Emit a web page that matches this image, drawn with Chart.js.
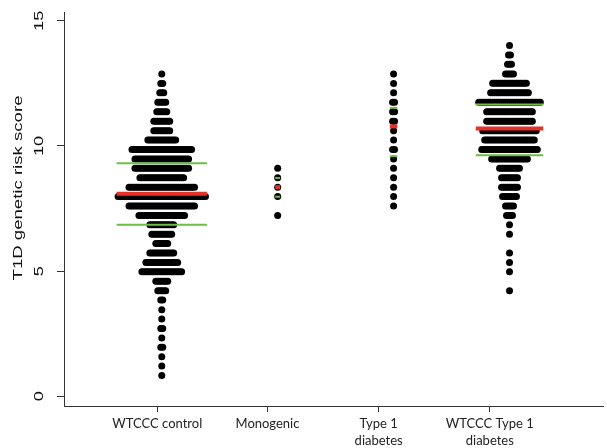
<!DOCTYPE html>
<html>
<head>
<meta charset="utf-8">
<title>T1D genetic risk score</title>
<script src="https://cdn.jsdelivr.net/npm/chart.js@4.4.1/dist/chart.umd.min.js"></script>
<style>
  html, body { margin: 0; padding: 0; background: #fff; }
  #wrap { width: 607px; height: 448px; position: relative; }
</style>
</head>
<body>
<div id="wrap"><canvas id="riskChart"></canvas></div>
<script>
// groups and tick labels
const groupNames = ["WTCCC control", "Monogenic", "Type 1 diabetes", "WTCCC Type 1 diabetes"];
const tickLabels = [["WTCCC control"], ["Monogenic"], ["Type 1", "diabetes"], ["WTCCC Type 1", "diabetes"]];
const yTicks = [0, 5, 10, 15];
const yTitle = "T1D genetic risk score";

// beeswarm rows: score of the row and how many subjects sit in it
const controlScores = [12.87, 12.49, 12.12, 11.74, 11.37, 10.99, 10.61, 10.24, 9.86, 9.48, 9.11, 8.73, 8.35, 7.98, 7.60, 7.22, 6.85, 6.47, 6.10, 5.72, 5.34, 4.97, 4.59, 4.21, 3.84, 3.46, 3.09, 2.71, 2.33, 1.96, 1.58, 1.21, 0.83];
const controlCounts = [1, 2, 3, 5, 6, 9, 9, 15, 31, 28, 28, 23, 34, 45, 34, 24, 13, 11, 7, 13, 17, 21, 7, 5, 2, 1, 1, 2, 1, 2, 1, 1, 1];

const monogenicScores = [9.11, 8.73, 8.35, 7.98, 7.22];
const monogenicCounts = [1, 1, 1, 1, 1];

const t1dScores = [12.87, 12.49, 12.12, 11.74, 11.37, 10.99, 10.61, 10.24, 9.86, 9.48, 9.11, 8.73, 8.35, 7.98, 7.60];
const t1dCounts = [1, 1, 1, 2, 2, 2, 1, 1, 2, 1, 1, 1, 1, 1, 1];

const wtcccT1dScores = [14.01, 13.63, 13.26, 12.87, 12.50, 12.12, 11.74, 11.37, 10.99, 10.61, 10.24, 9.86, 9.48, 9.11, 8.73, 8.35, 7.98, 7.60, 7.22, 6.85, 6.47, 5.72, 5.34, 4.97, 4.21];
const wtcccT1dCounts = [1, 2, 3, 5, 18, 20, 32, 24, 24, 28, 26, 29, 19, 11, 9, 9, 8, 5, 4, 1, 1, 1, 1, 1, 1];

// mean (red) and mean +/- sd (green) per group
const meanScore = [8.09, 8.35, 10.78, 10.70];
const upperScore = [9.31, 8.72, 11.52, 11.65];
const lowerScore = [6.85, 7.97, 9.59, 9.63];

// layout
const xMin = 0.1565, xMax = 4.8066;
const xTickPos = [0.9615, 1.912, 2.871, 3.830];
const plotWidthPx = 543;
const pxPerUnit = plotWidthPx / (xMax - xMin);
const dotStep = 2 / pxPerUnit;
const lineHalfPx = [45.5, 2.5, 3.8, 34];

const rows = [
  [controlScores, controlCounts],
  [monogenicScores, monogenicCounts],
  [t1dScores, t1dCounts],
  [wtcccT1dScores, wtcccT1dCounts],
];

function swarm(groupIdx) {
  const [scores, counts] = rows[groupIdx];
  const pts = [];
  const c = groupIdx + 1;
  for (let r = 0; r < scores.length; r++) {
    const n = counts[r];
    for (let i = 0; i < n; i++) {
      pts.push({ x: c + (i - (n - 1) / 2) * dotStep, y: scores[r] });
    }
  }
  return pts;
}

function hline(groupIdx, y) {
  const c = groupIdx + 1;
  const hw = lineHalfPx[groupIdx] / pxPerUnit;
  return [{ x: c - hw, y: y }, { x: c + hw, y: y }];
}

const datasets = [];
for (let g = 0; g < groupNames.length; g++) {
  datasets.push({
    type: "line", label: groupNames[g] + " mean", data: hline(g, meanScore[g]),
    borderColor: "#e8302a", borderWidth: 4, pointRadius: 0, order: 0,
  });
  datasets.push({
    type: "line", label: groupNames[g] + " +sd", data: hline(g, upperScore[g]),
    borderColor: "#6dbe45", borderWidth: 2, pointRadius: 0, order: 0,
  });
  datasets.push({
    type: "line", label: groupNames[g] + " -sd", data: hline(g, lowerScore[g]),
    borderColor: "#6dbe45", borderWidth: 2, pointRadius: 0, order: 0,
  });
  datasets.push({
    type: "scatter", label: groupNames[g], data: swarm(g),
    backgroundColor: "#000", borderWidth: 0, pointRadius: 3.5, order: 1,
  });
}

// y tick labels and title are rotated like the R original
const yAxisText = {
  id: "yAxisText",
  afterDraw(chart) {
    const ctx = chart.ctx;
    const ys = chart.scales.y;
    ctx.save();
    ctx.fillStyle = "#111";
    ctx.textAlign = "center";
    ctx.textBaseline = "middle";
    ctx.font = "13px 'Liberation Sans', Arial, sans-serif";
    yTicks.forEach(v => {
      ctx.save();
      ctx.translate(39, ys.getPixelForValue(v));
      ctx.rotate(-Math.PI / 2);
      ctx.scale(1.4, 1);
      ctx.fillText(String(v), 0, 0);
      ctx.restore();
    });
    ctx.translate(18, 188);
    ctx.rotate(-Math.PI / 2);
    ctx.scale(1.43, 1);
    ctx.fillText(yTitle, 0, 0);
    ctx.restore();
  }
};

new Chart(document.getElementById("riskChart"), {
  type: "scatter",
  data: { datasets: datasets },
  options: {
    responsive: true,
    maintainAspectRatio: false,
    animation: false,
    layout: { padding: { top: 12, right: 0, left: 0, bottom: 0 } },
    plugins: { legend: { display: false }, tooltip: { enabled: false } },
    scales: {
      x: {
        type: "linear",
        min: xMin,
        max: xMax,
        bounds: "data",
        afterBuildTicks: s => { s.ticks = xTickPos.map(v => ({ value: v })); },
        afterFit: s => { s.height = 42; },
        grid: { drawOnChartArea: false, tickLength: 6, tickColor: "#333" },
        border: { color: "#333" },
        ticks: {
          autoSkip: false,
          maxRotation: 0,
          padding: 3,
          color: "#222",
          font: { family: "Lato, 'Open Sans', sans-serif", size: 13, lineHeight: 1.3 },
          callback: (v, i) => tickLabels[i],
        },
      },
      y: {
        type: "linear",
        min: -0.39,
        max: 15.35,
        bounds: "data",
        afterBuildTicks: s => { s.ticks = yTicks.map(v => ({ value: v })); },
        afterFit: s => { s.width = 64; },
        grid: { drawOnChartArea: false, tickLength: 7, tickColor: "#333" },
        border: { color: "#333" },
        ticks: { display: false },
      },
    },
  },
  plugins: [yAxisText],
});
</script>
</body>
</html>
